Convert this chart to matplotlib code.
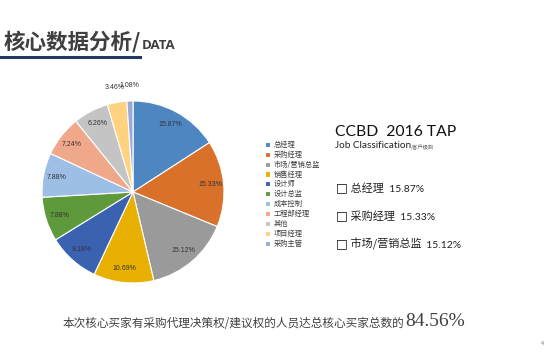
import numpy as np
import matplotlib
matplotlib.use("Agg")
import matplotlib.pyplot as plt

plt.rcParams['font.family'] = ['Noto Sans CJK SC', 'DejaVu Sans']

# data
roles = ["总经理", "采购经理", "市场/营销总监", "销售经理", "设计师", "设计总监",
         "成本控制", "工程部经理", "其他", "项目经理", "采购主管"]
shares = [15.87, 15.33, 15.12, 10.69, 9.18, 7.88, 7.88, 7.24, 6.26, 3.46, 1.08]
colors = ["#4E86C2", "#D9712B", "#9A9A9A", "#E8B000", "#3A62B0", "#5E9A3C",
          "#9DBFE6", "#F0A88A", "#C4C4C4", "#FFD27F", "#9AAAD8"]
top_roles = roles[:3]
top_shares = shares[:3]
total_share = 84.56

W, H = 546, 357
fig = plt.figure(figsize=(W / 100, H / 100), dpi=100)
bg = fig.add_axes([0, 0, 1, 1])
bg.set_xlim(0, W)
bg.set_ylim(H, 0)
bg.axis('off')


def after(prev, s, **kw):
    # place text right after a previous text, sharing its bottom edge
    return bg.annotate(s, xy=(1, 0), xycoords=prev, va='bottom', annotation_clip=False, **kw)


# header
title = bg.text(4, 52, "核心数据分析/", fontsize=15.5, fontweight='bold', color="#3F3F3F", va='bottom')
after(title, "DATA", fontsize=9.5, fontweight='bold', color="#3F3F3F",
      family=['Open Sans', 'DejaVu Sans'])
bg.plot([0, 140], [57, 57], color="#1F3864", lw=2.2)

# pie
cx, cy, r = 133, 192, 91
ax = fig.add_axes([(cx - r) / W, (H - cy - r) / H, 2 * r / W, 2 * r / H])
wedges, _ = ax.pie(shares, colors=colors, startangle=90, counterclock=False,
                   wedgeprops=dict(edgecolor="white", linewidth=0.8))
ax.set_xlim(-1, 1)
ax.set_ylim(-1, 1)
ax.set_aspect('equal')
ax.axis('off')

for w, s in zip(wedges, shares):
    ang = np.deg2rad((w.theta1 + w.theta2) / 2)
    dist = 0.85 if s > 5 else 1.17
    ax.text(dist * np.cos(ang), dist * np.sin(ang), f"{s:.2f}%", ha='center', va='center',
            fontsize=5, color="#333333", family=['Liberation Sans', 'DejaVu Sans'])
    if s < 2:
        ax.plot([1.0 * np.cos(ang), 1.1 * np.cos(ang)], [1.0 * np.sin(ang), 1.1 * np.sin(ang)],
                color="#888888", lw=0.5)

fig.legend(wedges, roles, loc='upper left', bbox_to_anchor=(262 / W, 1 - 138 / H), frameon=False,
           fontsize=5.2, handlelength=0.7, handleheight=0.7, handletextpad=0.5,
           labelspacing=0.26, borderaxespad=0, labelcolor="#404040")

# right-side text
bg.text(335, 136, "CCBD  2016 TAP", fontsize=11.3, color="#111111",
        family=['Lato', 'DejaVu Sans'])
job = bg.text(335, 150, "Job Classification", fontsize=7.2, color="#222222",
              family=['Lato', 'DejaVu Sans'], va='bottom')
after(job, "/客户级别", fontsize=3.8, color="#555555")

for i, (name, s) in enumerate(zip(top_roles, top_shares)):
    y = 194 + i * 28
    box = bg.text(336, y, "□", fontsize=9, fontweight='bold', color="#111111",
                  family=['DejaVu Sans'], va='bottom')
    nm = after(box, " " + name, fontsize=8, color="#222222")
    after(nm, f"  {s:.2f}%", fontsize=7.5, color="#222222", family=['Lato', 'DejaVu Sans'])

# bottom summary
summ = bg.text(63, 330, "本次核心买家有采购代理决策权/建议权的人员达总核心买家总数的",
               fontsize=8.4, color="#404040", va='bottom')
after(summ, f"{total_share:.2f}%", fontsize=14, color="#404040",
      family=['Liberation Serif', 'DejaVu Serif'])
bg.text(541, 345, "4", fontsize=4, color="#777777")

fig.savefig("out.png", dpi=100)
